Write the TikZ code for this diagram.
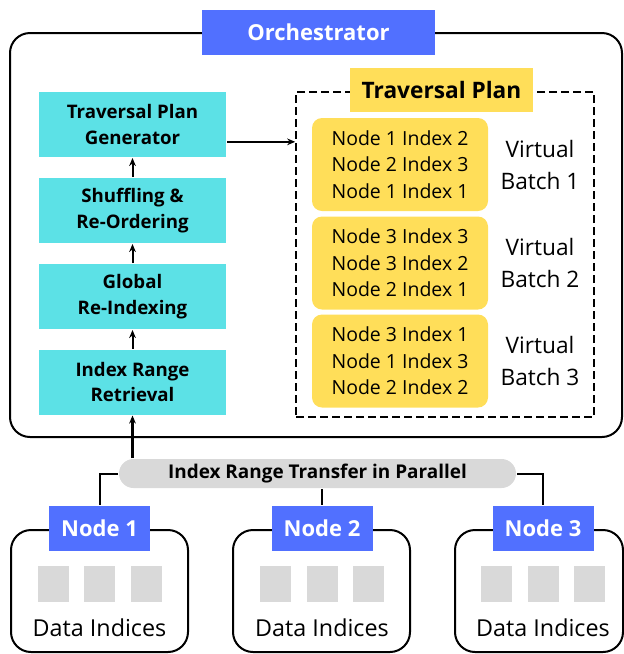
\documentclass[tikz,border=0pt]{standalone}
\usepackage{fontspec}
\setmainfont{Open Sans}
\usetikzlibrary{arrows.meta}
\definecolor{tagblue}{HTML}{5170FF}
\definecolor{stepcyan}{HTML}{5CE1E6}
\definecolor{batchyellow}{HTML}{FFDE59}
\definecolor{slotgray}{HTML}{D9D9D9}
\begin{document}
\begin{tikzpicture}
  [x=0.75pt,y=-0.75pt,line width=1.5pt,
   every node/.style={inner sep=0pt,align=center},
   tag/.style={fill=tagblue,text=white,font=\fontsize{16.5}{18}\selectfont\bfseries,minimum height=33.75pt},
   stepbox/.style={fill=stepcyan,minimum width=140.25pt,minimum height=48.75pt,font=\fontsize{14}{19}\selectfont\bfseries},
   batch/.style={fill=batchyellow,rounded corners=7.5pt,minimum width=132pt,minimum height=69.75pt,font=\fontsize{14.6}{19.8}\selectfont},
   vlabel/.style={font=\fontsize{17}{24}\selectfont},
   holder/.style={draw,rounded corners=15pt,minimum height=91.5pt},
   slot/.style={fill=slotgray,minimum width=23.25pt,minimum height=27pt},
   arrow/.style={-{Stealth[length=6pt,width=5pt]}}]
  \useasboundingbox (0,0) rectangle (624,654);

  % orchestrator frame
  \node[draw,rounded corners=15pt,minimum width=459pt,minimum height=303pt] (orch) at (316,235) {};
  \node[tag,minimum width=174.75pt] (orchtag) at (318.5,32) {Orchestrator};

  % processing steps
  \node[stepbox] (gen) at (132.5,124.5) {Traversal Plan\\Generator};
  \node[stepbox] (shuf) at (132.5,210.5) {Shuffling \&\\Re-Ordering};
  \node[stepbox] (glob) at (132.5,296.5) {Global\\Re-Indexing};
  \node[stepbox] (retr) at (132.5,382) {Index Range\\Retrieval};
  \foreach \from/\to in {retr/glob,glob/shuf,shuf/gen}
    \draw[arrow] (\from.north) -- (\to.south);

  % traversal plan
  \node[draw,dashed,line width=1.2pt,dash pattern=on 6pt off 3pt,minimum width=223.5pt,minimum height=243.75pt] (plan) at (445,254.5) {};
  \node[fill=batchyellow,minimum width=137.25pt,minimum height=33pt,font=\fontsize{17}{20}\selectfont\bfseries] (plantag) at (441.5,90) {Traversal Plan};
  \node[batch] (b1) at (400,164.5) {Node 1 Index 2\\Node 2 Index 3\\Node 1 Index 1};
  \node[batch] (b2) at (400,263) {Node 3 Index 3\\Node 3 Index 2\\Node 2 Index 1};
  \node[batch] (b3) at (400,361) {Node 3 Index 1\\Node 1 Index 3\\Node 2 Index 2};
  \node[vlabel] (v1) at (540,164.5) {Virtual\\Batch 1};
  \node[vlabel] (v2) at (540,263) {Virtual\\Batch 2};
  \node[vlabel] (v3) at (540,361) {Virtual\\Batch 3};
  \draw[arrow] ([yshift=-13pt]gen.east) -- ([yshift=-13pt]gen.east -| plan.west);

  % storage nodes
  \node[holder,minimum width=132.75pt] (h1) at (99.5,591) {};
  \node[holder,minimum width=132.75pt] (h2) at (321.5,591) {};
  \node[holder,minimum width=126pt] (h3) at (539,591) {};
  \foreach \i/\x in {1/99.5,2/322,3/543}{
    \node[tag,minimum width=75.75pt] (n\i) at (\x,528.5) {Node \i};
    \foreach \j/\dx in {a/-46.5,b/0,c/46.5}
      \node[slot] (s\i\j) at (\x+\dx,584) {};
    \node[font=\fontsize{17.5}{20}\selectfont] (d\i) at (\x,628) {Data Indices};
  }

  % transfer bar
  \node[fill=slotgray,rounded corners=10.9pt,minimum width=297.75pt,minimum height=21.75pt,font=\fontsize{14.2}{16}\selectfont\bfseries] (pill) at (317.5,473.5) {Index Range Transfer in Parallel};
  \draw (pill.west) -| (n1.north);
  \draw (pill.south -| n2.north) -- (n2.north);
  \draw (pill.east) -| (n3.north);
  \draw[arrow,line width=2pt] (pill.north -| retr.south) -- (retr.south);
\end{tikzpicture}
\end{document}
